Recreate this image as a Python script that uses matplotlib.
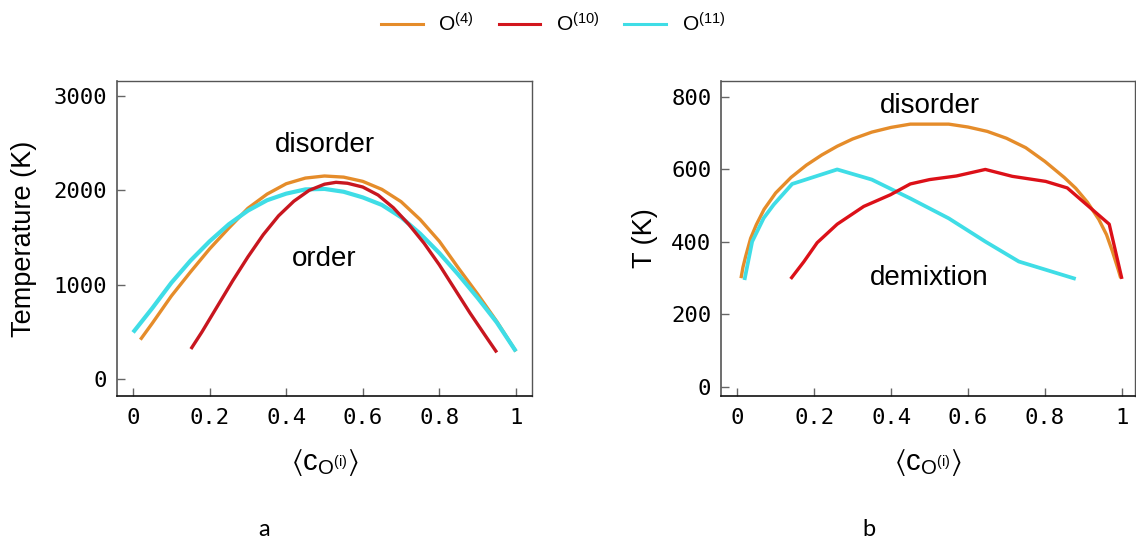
import matplotlib
matplotlib.use("Agg")
import matplotlib.pyplot as plt
from matplotlib.lines import Line2D

plt.rcParams['mathtext.fontset'] = 'custom'
plt.rcParams['mathtext.rm'] = 'Liberation Sans'
plt.rcParams['mathtext.it'] = 'Liberation Sans'
plt.rcParams['mathtext.bf'] = 'Liberation Sans:bold'
plt.rcParams['mathtext.fallback'] = 'stixsans'

# ---------------- data ----------------
series_names = [r'O$^{(4)}$', r'O$^{(10)}$', r'O$^{(11)}$']
colors = ['#e58c2a', '#d01820', '#3fdde6']

# panel a
a_o4_x = [0.019, 0.05, 0.10, 0.15, 0.20, 0.25, 0.30, 0.35, 0.40, 0.45, 0.50, 0.55,
          0.60, 0.65, 0.70, 0.75, 0.80, 0.85, 0.90, 0.95, 1.0]
a_o4_y = [417, 590, 880, 1135, 1380, 1600, 1810, 1960, 2070, 2130, 2152, 2140,
          2095, 2010, 1880, 1690, 1460, 1175, 900, 610, 293]
a_o10_x = [0.151, 0.18, 0.22, 0.26, 0.30, 0.34, 0.38, 0.42, 0.46, 0.50, 0.53, 0.56,
           0.60, 0.64, 0.68, 0.72, 0.76, 0.80, 0.84, 0.88, 0.92, 0.95]
a_o10_y = [318, 500, 770, 1040, 1295, 1530, 1730, 1885, 2000, 2065, 2085, 2075,
           2035, 1950, 1815, 1640, 1440, 1210, 955, 700, 460, 282]
a_o11_x = [0.0, 0.05, 0.10, 0.15, 0.20, 0.25, 0.30, 0.35, 0.40, 0.45, 0.50, 0.55,
           0.60, 0.65, 0.70, 0.75, 0.80, 0.85, 0.90, 0.95, 1.0]
a_o11_y = [494, 750, 1020, 1255, 1460, 1640, 1785, 1895, 1965, 2010, 2015, 1985,
           1925, 1845, 1715, 1540, 1335, 1105, 860, 600, 293]

# panel b
b_o4_x = [0.010, 0.015, 0.022, 0.035, 0.05, 0.07, 0.10, 0.14, 0.18, 0.22, 0.26, 0.30,
          0.35, 0.40, 0.45, 0.55, 0.60, 0.65, 0.70, 0.75, 0.80, 0.85, 0.88, 0.91,
          0.94, 0.96, 0.975, 0.99, 0.997]
b_o4_y = [300, 330, 360, 410, 448, 490, 535, 578, 612, 640, 664, 684,
          703, 716, 725, 725, 717, 705, 686, 660, 622, 578, 548, 510,
          462, 420, 375, 325, 300]
b_o10_x = [0.139, 0.173, 0.208, 0.26, 0.329, 0.398, 0.45, 0.5, 0.57, 0.645, 0.715, 0.802, 0.858, 0.967, 1.0]
b_o10_y = [298, 345, 398, 449, 498, 530, 560, 572, 582, 600, 581, 567, 549, 449, 298]
b_o11_x = [0.019, 0.039, 0.069, 0.095, 0.143, 0.260, 0.35, 0.45, 0.55, 0.645, 0.732, 0.88]
b_o11_y = [295, 401, 466, 503, 560, 600, 572, 520, 465, 401, 346, 298]

xticks = [0, 0.2, 0.4, 0.6, 0.8, 1]
xticklabels = ['0', '0.2', '0.4', '0.6', '0.8', '1']
a_yticks = [0, 1000, 2000, 3000]
b_yticks = [0, 200, 400, 600, 800]

# ---------------- figure ----------------
fig = plt.figure(figsize=(11.36, 5.46), dpi=100)
W, H = 1136, 546

def ax_at(l, t, r, b):
    return fig.add_axes([l / W, 1 - b / H, (r - l) / W, (b - t) / H])

axa = ax_at(117, 81, 532, 396)
axb = ax_at(721, 81, 1135, 396)

lw = 2.4
axa.plot(a_o4_x, a_o4_y, color=colors[0], lw=lw, solid_capstyle='butt')
axa.plot(a_o11_x, a_o11_y, color=colors[2], lw=3.0, solid_capstyle='butt')
axa.plot(a_o10_x, a_o10_y, color='#c8161f', lw=lw, solid_capstyle='butt')

axb.plot(b_o4_x, b_o4_y, color=colors[0], lw=lw, solid_capstyle='butt')
axb.plot(b_o11_x, b_o11_y, color=colors[2], lw=2.7, solid_capstyle='butt')
axb.plot(b_o10_x, b_o10_y, color='#dc1018', lw=lw, solid_capstyle='butt')

axa.set_xlim(-0.042, 1.042)
axa.set_ylim(-180, 3159)
axb.set_xlim(-0.042, 1.034)
axb.set_ylim(-25, 844)

for ax, yt in ((axa, a_yticks), (axb, b_yticks)):
    ax.set_xticks(xticks)
    ax.set_xticklabels(xticklabels)
    ax.set_yticks(yt)
    ax.set_yticklabels([str(v) for v in yt])
    ax.tick_params(direction='in', length=6, width=1, color='#666666',
                   labelsize=16, pad=7)
    ax.tick_params(axis='x', pad=9)
    for lab in ax.get_xticklabels() + ax.get_yticklabels():
        lab.set_family('DejaVu Sans Mono')
    for s in ('top', 'right'):
        ax.spines[s].set_color('#555555')
        ax.spines[s].set_linewidth(1.0)
    ax.spines['left'].set_color('#555555')
    ax.spines['left'].set_linewidth(1.2)
    ax.spines['bottom'].set_color('#111111')
    ax.spines['bottom'].set_linewidth(1.2)

xlab = r'$\langle\mathrm{c}_{\mathrm{O}^{(\mathrm{i})}}\rangle$'
for ax in (axa, axb):
    ax.set_xlabel(xlab, fontsize=21)
    ax.xaxis.label.set_verticalalignment('center')
    ax.xaxis.set_label_coords(0.5, (396 - 462) / 315)

axa.set_ylabel('Temperature (K)', fontsize=19.5, family='Liberation Sans')
axa.yaxis.label.set_verticalalignment('center')
axa.yaxis.set_label_coords((24 - 117) / 415, 0.5)
axb.set_ylabel('T (K)', fontsize=19.5, family='Liberation Sans')
axb.yaxis.label.set_verticalalignment('center')
axb.yaxis.set_label_coords((645 - 721) / 414, 0.5)

tf = dict(fontsize=20, family='Liberation Sans', ha='center', va='center')
axa.text(0.5, 2480, 'disorder', **tf)
axa.text(0.5, 1270, 'order', **tf)
axb.text(0.5, 775, 'disorder', **tf)
axb.text(0.5, 300, 'demixtion', **tf)

fig.text(264 / W, 1 - 530 / H, 'a', fontsize=17, family='Lato', ha='center', va='center')
fig.text(869 / W, 1 - 530 / H, 'b', fontsize=17, family='Lato', ha='center', va='center')

handles = [Line2D([], [], color=colors[0], lw=2.2),
           Line2D([], [], color='#d2161e', lw=2.2),
           Line2D([], [], color=colors[2], lw=2.2)]
leg = fig.legend(handles, series_names, loc='center', bbox_to_anchor=(553 / W, 1 - 24 / H),
                 ncol=3, frameon=False, handlelength=2.0, handletextpad=0.75,
                 columnspacing=1.2, prop={'family': 'Liberation Sans', 'size': 15})

fig.savefig('out.png', dpi=100)
